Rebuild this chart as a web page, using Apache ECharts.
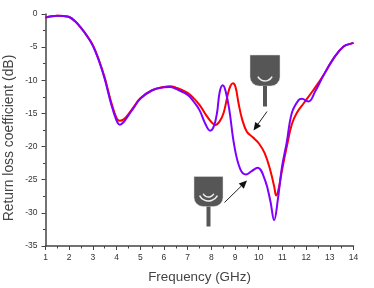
<!DOCTYPE html>
<html><head><meta charset="utf-8">
<script src="https://cdn.jsdelivr.net/npm/echarts@6/dist/echarts.min.js"></script>
<style>html,body{margin:0;padding:0;background:#fff}#c{width:374px;height:288px}</style>
</head><body><div id="c"></div>
<script>
const redFreq = [1,1.25,1.5,1.75,2,2.25,2.5,2.75,3,3.25,3.5,3.75,4,4.14,4.3,4.5,4.75,5,5.5,6,6.25,6.5,7,7.25,7.5,7.75,8,8.17,8.35,8.52,8.69,8.8,8.91,9.02,9.15,9.3,9.5,9.75,10.0,10.25,10.49,10.65,10.74,10.85,10.98,11.22,11.4,11.61,11.89,12.3,12.74,13.16,13.58,13.96,14];
const redVals = [-0.55,-0.35,-0.25,-0.3,-0.45,-1.1,-2.1,-3.3,-4.7,-6.9,-9.6,-13,-15.7,-16.1,-15.9,-15.1,-13.9,-12.7,-11.5,-11,-10.9,-11.1,-11.9,-12.7,-13.7,-15.1,-16.3,-16.75,-16.2,-14.9,-12.2,-10.9,-10.45,-11,-13.5,-15.9,-17.75,-18.6,-19.5,-21,-23.6,-26,-27.4,-26.2,-23.6,-19.4,-16.6,-14.9,-13.5,-11.5,-9.2,-6.7,-4.9,-4.4,-4.35];
const purpleFreq = [1,1.25,1.5,1.75,2,2.25,2.5,2.75,3,3.25,3.5,3.75,4,4.14,4.3,4.5,4.75,5,5.5,6,6.25,6.5,7,7.25,7.5,7.75,7.95,8.1,8.24,8.35,8.48,8.6,8.76,8.97,9.22,9.46,9.7,9.95,10.27,10.49,10.65,10.8,10.98,11.18,11.4,11.68,11.82,12.1,12.38,12.74,13.16,13.58,13.96,14];
const purpleVals = [-0.55,-0.35,-0.25,-0.3,-0.45,-1.1,-2.1,-3.3,-4.8,-7,-9.8,-13.3,-16.1,-16.7,-16.3,-15.3,-14,-12.8,-11.5,-11.05,-11,-11.3,-12.2,-13.2,-14.5,-16.6,-17.6,-17,-14.9,-11.8,-10.75,-11.6,-14.5,-19.9,-23.4,-24.2,-23.7,-23.2,-25.1,-28.2,-31.1,-28.2,-23.1,-19.4,-14.9,-13,-12.8,-13.2,-11.7,-9.2,-6.7,-4.9,-4.4,-4.35];
const xTitle = 'Frequency (GHz)';
const yTitle = 'Return loss coefficient (dB)';
const zip = (a, b) => a.map((v, i) => [v, b[i]]);
const ink = '#444';
const font = '"Liberation Sans", Arial, sans-serif';
const iconGrey = '#565656';
function icon(x, y, w, h, stemBottom, arcs) {
  const cx = x + w / 2;
  const els = [
    {type:'rect', shape:{x:x, y:y, width:w, height:h, r:[0,0,9,9]}, style:{fill:iconGrey, stroke:'#ddd', lineWidth:0.5}},
    {type:'rect', shape:{x:cx-2, y:y+h, width:4, height:stemBottom-y-h}, style:{fill:iconGrey}}
  ];
  arcs.forEach(a => els.push({type:'arc', shape:{cx:cx, cy:a[0], r:a[1], startAngle:Math.PI*0.15, endAngle:Math.PI*0.85},
    style:{fill:null, stroke:'#eee', lineWidth:1.5}}));
  return els;
}
function arrow(x1, y1, x2, y2) {
  const ang = Math.atan2(y2-y1, x2-x1), L = 8, W = 3.6;
  const bx = x2 - L*Math.cos(ang), by = y2 - L*Math.sin(ang);
  const nx = -Math.sin(ang), ny = Math.cos(ang);
  return [
    {type:'line', shape:{x1:x1, y1:y1, x2:bx, y2:by}, style:{stroke:'#222', lineWidth:1}},
    {type:'polygon', shape:{points:[[x2,y2],[bx+nx*W,by+ny*W],[bx-nx*W,by-ny*W]]}, style:{fill:'#111'}}
  ];
}
const chart = echarts.init(document.getElementById('c'), null, {renderer:'canvas'});
chart.setOption({
  animation:false,
  backgroundColor:'#fff',
  grid:{left:45.5, top:14, width:308, height:232, containLabel:false, outerBoundsMode:'none'},
  xAxis:{
    type:'value', min:1, max:14, interval:1,
    name:xTitle, nameLocation:'middle', nameGap:25,
    nameTextStyle:{fontFamily:font, fontSize:13.4, color:'#444'},
    axisLine:{onZero:false, lineStyle:{color:ink, width:1.5}},
    axisTick:{length:4, lineStyle:{color:ink, width:1}},
    minorTick:{show:true, splitNumber:2, length:2.5, lineStyle:{color:ink, width:1}},
    axisLabel:{fontFamily:font, fontSize:8.5, color:'#333', margin:7},
    splitLine:{show:false}
  },
  yAxis:{
    type:'value', min:-35, max:0, interval:5,
    name:yTitle, nameLocation:'middle', nameGap:29, nameRotate:90, nameMoveOverlap:false,
    nameTextStyle:{fontFamily:font, fontSize:13.9, color:'#444', padding:[0,16,0,0]},
    axisLine:{onZero:false, lineStyle:{color:ink, width:1.5}},
    axisTick:{length:4, lineStyle:{color:ink, width:1}},
    minorTick:{show:true, splitNumber:2, length:2.5, lineStyle:{color:ink, width:1}},
    axisLabel:{fontFamily:font, fontSize:8.5, color:'#333', margin:8},
    splitLine:{show:false}
  },
  series:[
    {type:'line', name:'red', data:zip(redFreq, redVals), showSymbol:false, smooth:0.4,
     lineStyle:{color:'#ff0000', width:2}, z:2},
    {type:'line', name:'purple', data:zip(purpleFreq, purpleVals), showSymbol:false, smooth:0.4,
     lineStyle:{color:'#7f00ff', width:2}, z:3}
  ],
  graphic:{elements:[
    ...icon(250, 55, 30, 31, 106.5, [[73, 8]]),
    ...icon(194, 176.5, 29, 30, 226.5, [[191, 6], [191, 10]]),
    ...arrow(267, 111.5, 253.5, 130.5),
    ...arrow(224.5, 202.5, 247, 180.5)
  ]}
});
</script></body></html>
